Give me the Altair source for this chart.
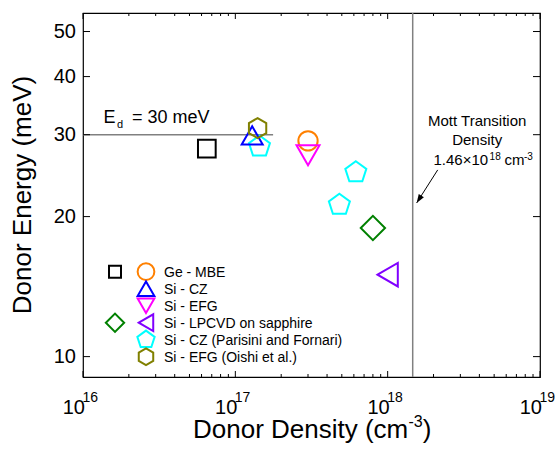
import altair as alt
import pandas as pd

# ---------------- data ----------------
sq_x = [6.5e16];   sq_y = [28.0]           # black square (Ge - MBE)
ge_x = [3.0e17];   ge_y = [29.1]           # Ge - MBE
cz_x = [1.29e17];  cz_y = [29.9]           # Si - CZ
efg_x = [3.0e17];  efg_y = [27.1]          # Si - EFG
dia_x = [8.0e17];  dia_y = [18.9]          # green diamond (Si - LPCVD on sapphire)
lp_x = [1.0e18];   lp_y = [15.0]           # Si - LPCVD on sapphire
par_x = [1.44e17, 6.18e17, 4.82e17]; par_y = [28.3, 24.9, 21.2]   # Si - CZ (Parisini and Fornari)
oi_x = [1.40e17];  oi_y = [31.0]           # Si - EFG (Oishi et al.)

ed_value = 30.0
ed_line_end = 1.77e17
mott_density = 1.46e18
arrow_start = (2.13e18, 25.2)
arrow_end = (1.55e18, 21.4)

legend_labels = ["Ge - MBE", "Si - CZ", "Si - EFG", "Si - LPCVD on sapphire",
                 "Si - CZ (Parisini and Fornari)", "Si - EFG (Oishi et al.)"]

x_major = [1e16, 1e17, 1e18, 1e19]
x_exp = ["16", "17", "18", "19"]
x_minor = [m * 10 ** e for e in (16, 17, 18) for m in range(2, 10)]
y_major = [10, 20, 30, 40, 50]

# ---------------- layout ----------------
W, H = 457, 364
FONT = "Liberation Sans"
PENT = "M0,-1L0.951,-0.309L0.588,0.809L-0.588,0.809L-0.951,-0.309Z"
HEX = "M0,-1L0.866,-0.5L0.866,0.5L0,1L-0.866,0.5L-0.866,-0.5Z"
ARROW = "M0,0L-0.35,1L0.35,1Z"

xs = alt.Scale(type="log", domain=[1e16, 1e19], nice=False)
ys = alt.Scale(type="log", domain=[9.04, 54.8], nice=False)

one = alt.Data(values=[{}])


def txt(text, x, y, size, align="left", baseline="alphabetic", angle=0):
    kw = dict(text=text, align=align, baseline=baseline, fontSize=size, font=FONT, color="black")
    if angle:
        kw["angle"] = angle
    return alt.Chart(one).mark_text(**kw).encode(x=alt.value(x), y=alt.value(y))


layers = []

# reference lines
layers.append(alt.Chart(pd.DataFrame({"x": [1e16], "x2": [ed_line_end], "y": [ed_value]}))
              .mark_rule(color="#808080", strokeWidth=1.5)
              .encode(x=alt.X("x:Q", scale=xs, axis=None), x2="x2:Q",
                      y=alt.Y("y:Q", scale=ys, axis=None)))
layers.append(alt.Chart(pd.DataFrame({"x": [mott_density]}))
              .mark_rule(color="#808080", strokeWidth=1.5)
              .encode(x=alt.X("x:Q", scale=xs, axis=None), y=alt.value(0), y2=alt.value(H)))

# ticks (inward)
xmaj = pd.DataFrame({"v": x_major, "e": x_exp})
xmin = pd.DataFrame({"v": x_minor})
ymaj = pd.DataFrame({"v": y_major, "t": [str(v) for v in y_major]})
for df, ln in ((xmaj, 6), (xmin, 3)):
    layers.append(alt.Chart(df).mark_rule(color="black", strokeWidth=1)
                  .encode(x=alt.X("v:Q", scale=xs, axis=None), y=alt.value(H), y2=alt.value(H - ln)))
    layers.append(alt.Chart(df).mark_rule(color="black", strokeWidth=1)
                  .encode(x=alt.X("v:Q", scale=xs, axis=None), y=alt.value(0), y2=alt.value(ln)))
layers.append(alt.Chart(ymaj).mark_rule(color="black", strokeWidth=1)
              .encode(y=alt.Y("v:Q", scale=ys, axis=None), x=alt.value(0), x2=alt.value(7)))
layers.append(alt.Chart(ymaj).mark_rule(color="black", strokeWidth=1)
              .encode(y=alt.Y("v:Q", scale=ys, axis=None), x=alt.value(W), x2=alt.value(W - 7)))

# tick labels
layers.append(alt.Chart(xmaj).mark_text(text="10", align="right", dx=2, fontSize=20, font=FONT, color="black")
              .encode(x=alt.X("v:Q", scale=xs, axis=None), y=alt.value(394.7)))
layers.append(alt.Chart(xmaj).mark_text(align="left", dx=-0.5, fontSize=14, font=FONT, color="black")
              .encode(x=alt.X("v:Q", scale=xs, axis=None), y=alt.value(384.7), text="e:N"))
layers.append(alt.Chart(ymaj).mark_text(align="right", baseline="middle", fontSize=20, font=FONT, color="black")
              .encode(y=alt.Y("v:Q", scale=ys, axis=None), x=alt.value(-7), text="t:N"))

# axis titles
layers.append(txt("Donor Energy (meV)", -52.4, 182, 26, align="center", angle=270))
layers.append(txt("Donor Density (cm", 110, 425, 26))
layers.append(txt("-3", 325.5, 414, 16))
layers.append(txt(")", 339.7, 425, 26))

# annotations
layers.append(txt("E", 20.6, 110.3, 18))
layers.append(txt("d", 34, 115, 11))
layers.append(txt("= 30 meV", 49, 110.3, 18))
layers.append(txt("Mott Transition", 394.2, 113, 15, align="center"))
layers.append(txt("Density", 394.2, 132, 15, align="center"))
layers.append(txt("1.46\u00d710", 350.5, 152, 15))
layers.append(txt("18", 406.6, 146.5, 10))
layers.append(txt("cm", 421.5, 152, 15))
layers.append(txt("-3", 441, 146.5, 10))

# arrow
arr = pd.DataFrame({"x": [arrow_start[0]], "y": [arrow_start[1]],
                    "x2": [arrow_end[0]], "y2": [arrow_end[1]]})
layers.append(alt.Chart(arr).mark_rule(color="black", strokeWidth=1)
              .encode(x=alt.X("x:Q", scale=xs, axis=None), y=alt.Y("y:Q", scale=ys, axis=None),
                      x2="x2:Q", y2="y2:Q"))
layers.append(alt.Chart(arr).mark_point(shape=ARROW, filled=True, color="black", opacity=1,
                                        size=300, angle=212.5, strokeWidth=0)
              .encode(x=alt.X("x2:Q", scale=xs, axis=None), y=alt.Y("y2:Q", scale=ys, axis=None)))

# data series (draw order)
series = [
    (sq_x, sq_y, "square", "#000000", 313),
    (ge_x, ge_y, "circle", "#FF8000", 373),
    (efg_x, efg_y, "triangle-down", "#FF00FF", 529),
    (par_x, par_y, PENT, "#00FFFF", 488),
    (cz_x, cz_y, "triangle-up", "#0000FF", 441),
    (oi_x, oi_y, HEX, "#808000", 400),
    (dia_x, dia_y, "diamond", "#008000", 590),
    (lp_x, lp_y, "triangle-left", "#8000FF", 548),
]
for sx, sy, shp, col, sz in series:
    layers.append(alt.Chart(pd.DataFrame({"x": sx, "y": sy}))
                  .mark_point(shape=shp, color=col, size=sz, strokeWidth=2, filled=False, opacity=1)
                  .encode(x=alt.X("x:Q", scale=xs, axis=None), y=alt.Y("y:Q", scale=ys, axis=None)))

# legend (manual, two symbol columns)
row0, step = 258.7, 17.0
col1, col2, tx = 32, 63, 81
leg_syms = [
    (col1, 0, "square", "#000000", 144),
    (col2, 0, "circle", "#FF8000", 279),
    (col2, 1, "triangle-up", "#0000FF", 279),
    (col2, 2, "triangle-down", "#FF00FF", 280),
    (col1, 3, "diamond", "#008000", 335),
    (col2, 3, "triangle-left", "#8000FF", 279),
    (col2, 4, PENT, "#00FFFF", 331),
    (col2, 5, HEX, "#808000", 279),
]
for cx, r, shp, col, sz in leg_syms:
    layers.append(alt.Chart(one)
                  .mark_point(shape=shp, color=col, size=sz, strokeWidth=2, filled=False, opacity=1)
                  .encode(x=alt.value(cx), y=alt.value(row0 + r * step)))
for i, lab in enumerate(legend_labels):
    layers.append(txt(lab, tx, row0 + i * step + 5, 14))

chart = (alt.layer(*layers)
         .properties(width=W, height=H,
                     autosize=alt.AutoSizeParams(type="none"),
                     padding={"left": 83, "top": 13, "right": 20, "bottom": 72})
         .configure_view(stroke="black", strokeWidth=1.2))

chart.save("out.html", embed_options={"renderer": "svg", "actions": False})
